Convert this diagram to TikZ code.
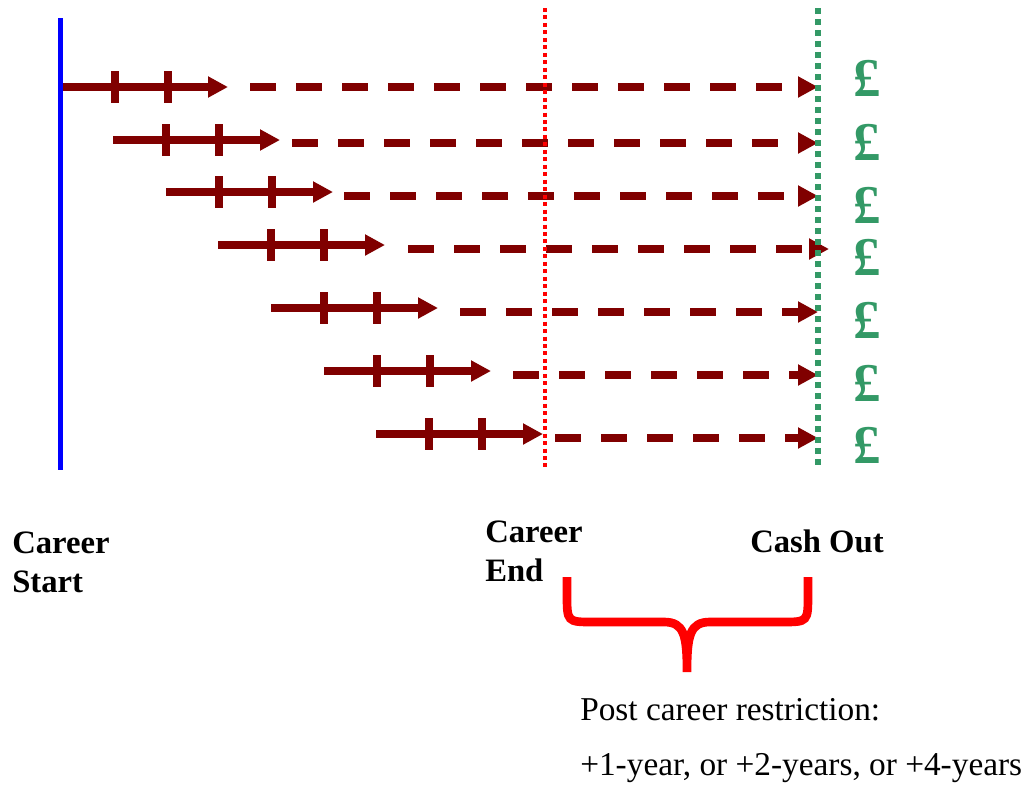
\documentclass[tikz,border=0pt]{standalone}
\usepackage{tikz}
\usepackage{xcolor}
\usepackage{fontspec}
\setmainfont{Liberation Serif}
\usetikzlibrary{arrows.meta}
\definecolor{careerRed}{HTML}{800000}
\definecolor{cashGreen}{HTML}{339966}
\definecolor{startBlue}{HTML}{0000FF}
\definecolor{endRed}{HTML}{FF0000}
\tikzstyle{track} = [careerRed, line width=5.5pt, -{Triangle[length=15pt,width=15pt]}]
\tikzstyle{wait} = [track, dash pattern=on 19.5pt off 15pt]
\tikzstyle{yeartick} = [careerRed, line width=5.5pt]
\tikzstyle{startline} = [startBlue, line width=3.75pt]
\tikzstyle{endline} = [endRed, line width=2.6pt, dash pattern=on 3pt off 2.6pt]
\tikzstyle{cashline} = [cashGreen, line width=3.9pt, dash pattern=on 4.5pt off 3.75pt]
\tikzstyle{restrictbrace} = [endRed, line width=6.5pt]
\tikzstyle{tagtext} = [font=\fontsize{24.5}{29.25}\selectfont\bfseries, anchor=base west, align=left, inner sep=0pt]
\tikzstyle{note} = [font=\fontsize{25}{29.25}\selectfont, anchor=base west, inner sep=0pt]
\tikzstyle{cash} = [cashGreen, font=\fontsize{41}{41}\selectfont\bfseries, inner sep=0pt]

\begin{document}
\begin{tikzpicture}[x=0.75pt, y=-0.75pt]
\useasboundingbox (0,0) rectangle (1031,794);

% one row per career start
\coordinate (a1) at (62,87);  \coordinate (b1) at (228,87);  \coordinate (c1) at (250,87);  \coordinate (d1) at (818,87);
\coordinate (a2) at (113,140); \coordinate (b2) at (280,140); \coordinate (c2) at (292,143); \coordinate (d2) at (818,143);
\coordinate (a3) at (166,192); \coordinate (b3) at (333,192); \coordinate (c3) at (344,196); \coordinate (d3) at (818,196);
\coordinate (a4) at (218,245); \coordinate (b4) at (385,245); \coordinate (c4) at (408,249); \coordinate (d4) at (829,249);
\coordinate (a5) at (271,308); \coordinate (b5) at (438,308); \coordinate (c5) at (460,312); \coordinate (d5) at (818,312);
\coordinate (a6) at (324,371); \coordinate (b6) at (491,371); \coordinate (c6) at (513,375); \coordinate (d6) at (818,375);
\coordinate (a7) at (376,434); \coordinate (b7) at (543,434); \coordinate (c7) at (555,438); \coordinate (d7) at (818,438);

\draw [track] (a1) -- (b1);
\draw [yeartick] (a1) ++(53,-16) -- ++(0,32) (a1) ++(106,-16) -- ++(0,32);
\draw [wait] (c1) -- (d1);
\draw [track] (a2) -- (b2);
\draw [yeartick] (a2) ++(53,-16) -- ++(0,32) (a2) ++(106,-16) -- ++(0,32);
\draw [wait] (c2) -- (d2);
\draw [track] (a3) -- (b3);
\draw [yeartick] (a3) ++(53,-16) -- ++(0,32) (a3) ++(106,-16) -- ++(0,32);
\draw [wait] (c3) -- (d3);
\draw [track] (a4) -- (b4);
\draw [yeartick] (a4) ++(53,-16) -- ++(0,32) (a4) ++(106,-16) -- ++(0,32);
\draw [wait] (c4) -- (d4);
\draw [track] (a5) -- (b5);
\draw [yeartick] (a5) ++(53,-16) -- ++(0,32) (a5) ++(106,-16) -- ++(0,32);
\draw [wait] (c5) -- (d5);
\draw [track] (a6) -- (b6);
\draw [yeartick] (a6) ++(53,-16) -- ++(0,32) (a6) ++(106,-16) -- ++(0,32);
\draw [wait] (c6) -- (d6);
\draw [track] (a7) -- (b7);
\draw [yeartick] (a7) ++(53,-16) -- ++(0,32) (a7) ++(106,-16) -- ++(0,32);
\draw [wait] (c7) -- (d7);

% time lines
\coordinate (starttop) at (60,18);
\coordinate (startbot) at (60,470);
\coordinate (endtop) at (545,8);
\coordinate (endbot) at (545,470);
\coordinate (cashtop) at (818,8);
\coordinate (cashbot) at (818,470);
\draw [startline] (starttop) -- (startbot);
\draw [endline] (endtop) -- (endbot);
\draw [cashline] (cashtop) -- (cashbot);

\node (p1) [cash] at (867,78) {£};
\node (p2) [cash] at (867,142) {£};
\node (p3) [cash] at (867,205) {£};
\node (p4) [cash] at (867,257) {£};
\node (p5) [cash] at (867,320) {£};
\node (p6) [cash] at (867,383) {£};
\node (p7) [cash] at (867,445) {£};

\node (careerstart) [tagtext] at (12,592) {Career\\Start};
\node (careerend) [tagtext] at (485,581) {Career\\End};
\node (cashout) [tagtext] at (750,552) {Cash Out};

% brace under the restriction period
\coordinate (bl) at (567,577);
\coordinate (br) at (808,577);
\coordinate (bt) at (687,672);
\draw [restrictbrace] (bl) -- (567,594) .. controls (567,622) .. (593,622) -- (664,622)
  .. controls (684,622) and (687,635) .. (bt)
  .. controls (687,635) and (690,622) .. (710,622) -- (782,622)
  .. controls (808,622) .. (808,594) -- (br);

\node (restrict) [note] at (580,720) {Post career restriction:};
\node (options) [note] at (580,775) {+1-year, or +2-years, or +4-years};

\end{tikzpicture}
\end{document}
